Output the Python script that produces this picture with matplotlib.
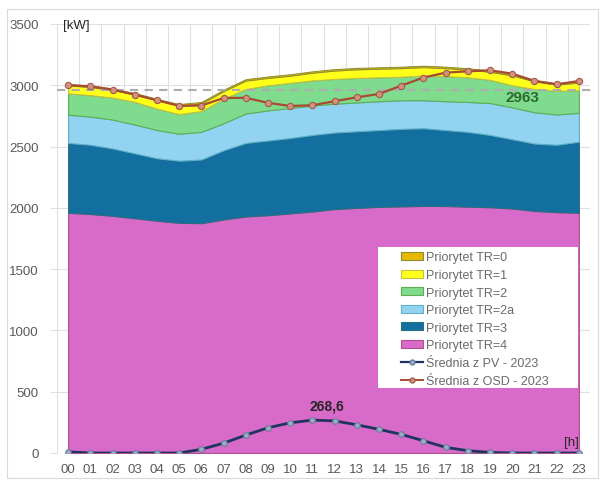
import matplotlib
matplotlib.use("Agg")
import matplotlib.pyplot as plt
from matplotlib.patches import Rectangle, Patch
from matplotlib.lines import Line2D

plt.rcParams['font.family'] = ['Liberation Sans', 'DejaVu Sans']

hours = ["00", "01", "02", "03", "04", "05", "06", "07", "08", "09", "10", "11",
         "12", "13", "14", "15", "16", "17", "18", "19", "20", "21", "22", "23"]

# Stacked load by priority class [kW]
tr4 = [1960, 1950, 1935, 1915, 1895, 1878, 1875, 1905, 1930, 1940, 1955, 1970,
       1990, 2000, 2008, 2012, 2016, 2015, 2010, 2005, 1995, 1975, 1965, 1960]
tr3 = [570, 565, 550, 530, 510, 507, 520, 565, 600, 610, 615, 625,
       625, 625, 627, 633, 634, 620, 610, 590, 565, 550, 550, 580]
tr2a = [230, 230, 235, 235, 230, 220, 225, 220, 240, 245, 245, 240,
        235, 235, 235, 233, 228, 235, 244, 260, 260, 255, 247, 235]
tr2 = [175, 175, 180, 185, 175, 160, 170, 200, 200, 205, 205, 205,
       202, 200, 195, 192, 202, 205, 201, 190, 180, 190, 193, 185]
tr1 = [65, 65, 62, 60, 68, 70, 62, 62, 68, 60, 58, 62,
       68, 70, 70, 70, 68, 65, 62, 65, 80, 62, 50, 62]
tr0 = [12, 12, 12, 12, 12, 12, 12, 12, 12, 12, 12, 12,
       12, 12, 12, 12, 12, 12, 12, 12, 12, 12, 12, 12]

# Average hourly profiles for 2023 [kW]
pv_2023 = [10, 0, 0, 0, 0, 0, 30, 80, 146, 206, 246, 268.6,
           262, 230, 193, 152, 100, 46, 19, 5, 0, 0, 0, 0]
osd_2023 = [3000, 2992, 2965, 2924, 2878, 2832, 2835, 2896, 2898, 2857, 2831, 2837,
            2870, 2902, 2929, 2997, 3063, 3103, 3114, 3122, 3095, 3035, 3008, 3035]

limit_kw = 2963
pv_peak_label = "268,6"

layer_names = ["Priorytet TR=4", "Priorytet TR=3", "Priorytet TR=2a",
               "Priorytet TR=2", "Priorytet TR=1", "Priorytet TR=0"]
layer_colors = ["#d86bc9", "#126f9f", "#92d3f1", "#7fdb8d", "#ffff1a", "#e8b800"]
layer_edges = ["#b0508f", "#2a6f80", "#5fb0c8", "#5fae50", "#c8c040", "#8c8c30"]
layer_lw = [0.8, 0.8, 0.8, 0.8, 0.8, 0.7]

fig = plt.figure(figsize=(6.01, 4.81), dpi=100)
ax = fig.add_axes([57 / 601, 1 - 454 / 481, 533 / 601, 429 / 481])

x = list(range(len(hours)))
layers = [tr4, tr3, tr2a, tr2, tr1, tr0]
base = [0] * len(x)
for vals, col, ec, lw in zip(layers, layer_colors, layer_edges, layer_lw):
    top = [b + v for b, v in zip(base, vals)]
    ax.fill_between(x, base, top, facecolor=col, edgecolor=ec, linewidth=lw, zorder=2)
    base = top

# limit line
ax.plot([-0.5, 23.6], [limit_kw, limit_kw], color="#adadad", lw=1.5,
        dashes=(4, 3), zorder=3, clip_on=False)
ax.text(20.45, 2905, str(limit_kw), color="#2d6a2f", fontsize=11, fontweight="bold",
        ha="center", va="center", zorder=6)

ax.plot(x, osd_2023, color="#a64a30", lw=1.6, marker="o", ms=4.5,
        mfc="#d4917f", mec="#a05a48", mew=0.8, zorder=5)
ax.plot(x, pv_2023, color="#1f3460", lw=2.0, marker="o", ms=4,
        mfc="#9aabc4", mec="#6a7d9c", mew=0.8, zorder=5)
ax.text(11.65, 390, pv_peak_label, color="#262626", fontsize=10, fontweight="bold",
        ha="center", va="center", zorder=6)

ax.set_xlim(-0.5, 23.5)
ax.set_ylim(0, 3500)
ax.set_xticks(x)
ax.set_xticklabels(hours)
ax.set_yticks(range(0, 3501, 500))
ax.set_xticks([i + 0.5 for i in range(-1, 24)], minor=True)
ax.tick_params(axis="x", which="major", length=0, pad=7, labelsize=9.5, labelcolor="#595959")
ax.tick_params(axis="x", which="minor", length=0)
ax.tick_params(axis="y", length=5, color="#e0e0e0", pad=8, labelsize=9.5, labelcolor="#595959")
ax.grid(axis="y", color="#e0e0e0", lw=0.8, zorder=0)
ax.grid(axis="x", which="minor", color="#e0e0e0", lw=0.8, zorder=0)
ax.set_axisbelow(True)
for s in ax.spines.values():
    s.set_visible(False)

ax.text(-0.25, 3490, "[kW]", fontsize=9.5, color="#262626", ha="left", va="center")
ax.text(23.0, 90, "[h]", fontsize=9.5, color="#262626", ha="right", va="center", zorder=6)

# white legend panel
ax.add_patch(Rectangle((378, 481 - 389), 200, 141, transform=None,
                       facecolor="white", edgecolor="none", zorder=6))

handles = [Patch(facecolor=c, edgecolor=e, lw=0.8) for c, e in
           zip(layer_colors[::-1], layer_edges[::-1])]
handles += [Line2D([], [], color="#1f3460", lw=1.6, marker="o", ms=3.5,
                   mfc="#9aabc4", mec="#6a7d9c"),
            Line2D([], [], color="#a64a30", lw=1.4, marker="o", ms=3.5,
                   mfc="#d4917f", mec="#a05a48")]
labels = layer_names[::-1] + ["Średnia z PV - 2023", "Średnia z OSD - 2023"]
leg = ax.legend(handles, labels, loc="upper left", bbox_to_anchor=(0.6454, 0.470),
                fontsize=9, frameon=False, borderpad=0,
                labelspacing=0.45, handlelength=1.75, handleheight=0.6,
                handletextpad=0.25, borderaxespad=0)
for t in leg.get_texts():
    t.set_color("#6a6a6a")
leg.set_zorder(7)

fig.patches.append(Rectangle((7 / 601, 0.005), 591 / 601, 1 - 10 / 481 - 0.005,
                             transform=fig.transFigure, fill=False,
                             edgecolor="#d9d9d9", lw=0.8))

fig.savefig("out.png", dpi=100)
